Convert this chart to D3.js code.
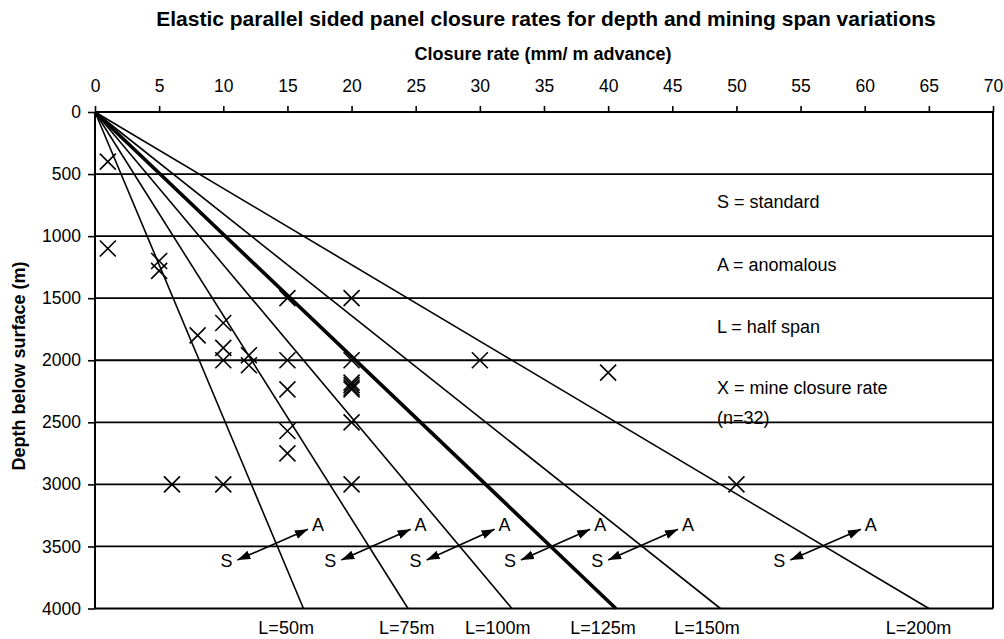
<!DOCTYPE html>
<html>
<head>
<meta charset="utf-8">
<script src="https://cdn.jsdelivr.net/npm/d3@7"></script>
<style>
  body { margin: 0; background: #fff; }
  svg text { font-family: Arial, "Liberation Sans", sans-serif; fill: #000; }
</style>
</head>
<body>
<svg id="chart" width="1004" height="639"></svg>
<script>
// ---- data ----
const rateTicks  = [0, 5, 10, 15, 20, 25, 30, 35, 40, 45, 50, 55, 60, 65, 70];
const depthTicks = [0, 500, 1000, 1500, 2000, 2500, 3000, 3500, 4000];

// elastic closure lines: half span label and closure rate reached at 4000 m
const spanLabels   = ["L=50m", "L=75m", "L=100m", "L=125m", "L=150m", "L=200m"];
const rateAt4000   = [16.25, 24.4, 32.5, 40.6, 48.75, 65];
const heavySpan    = "L=125m";
const spanLabelRate = [14.9, 24.3, 31.4, 39.6, 47.7, 64.2];

// measured mine closure rates (mm / m advance) and depths (m)
const mineRate  = [1, 1, 5, 5, 15, 20, 10, 8, 10, 10, 12, 12, 15, 20, 30, 40,
                   15, 20, 20, 20, 20, 20, 15, 15, 6, 10, 20, 50];
const mineDepth = [400, 1100, 1200, 1280, 1500, 1500, 1700, 1800, 1900, 2000, 1960, 2040, 2000, 2000, 2000, 2100,
                   2235, 2180, 2200, 2220, 2235, 2500, 2570, 2750, 3000, 3000, 3000, 3000];

// standard (S) to anomalous (A) shift arrows for each half span
const shiftStdRate  = [11.1, 19.2, 25.85, 33.2, 40.0, 54.2];
const shiftAnomRate = [16.6, 24.6, 31.15, 38.6, 45.45, 59.7];
const shiftStdDepth  = 3610;
const shiftAnomDepth = 3362;

const legendLines = ["S = standard", "A = anomalous", "L = half span", "X = mine closure rate", "(n=32)"];

// ---- layout ----
const svg = d3.select("#chart");
const x = d3.scaleLinear().domain([0, 70]).range([95, 993]);
const y = d3.scaleLinear().domain([0, 4000]).range([112, 608.5]);

// title and axis titles
svg.append("text")
  .attr("x", 546).attr("y", 26)
  .attr("text-anchor", "middle")
  .style("font-size", "21px").style("font-weight", "bold")
  .text("Elastic parallel sided panel closure rates for depth and mining span variations");

svg.append("text")
  .attr("x", 543).attr("y", 60)
  .attr("text-anchor", "middle")
  .style("font-size", "18px").style("font-weight", "bold")
  .text("Closure rate (mm/ m advance)");

svg.append("text")
  .attr("transform", "translate(25,366) rotate(-90)")
  .attr("text-anchor", "middle")
  .style("font-size", "18px").style("font-weight", "bold")
  .text("Depth below surface (m)");

// legend notes
const legendBase = [208, 271, 333, 394, 424];
svg.append("g").selectAll("text")
  .data(legendLines)
  .join("text")
  .attr("x", 717)
  .attr("y", (d, i) => legendBase[i])
  .style("font-size", "18px")
  .text(d => d);

// axes
const xAxis = svg.append("g")
  .attr("transform", `translate(0,${y(0)})`)
  .call(d3.axisTop(x).tickValues(rateTicks).tickSize(6).tickPadding(14).tickFormat(d3.format("d")));
const yAxis = svg.append("g")
  .attr("transform", `translate(${x(0)},0)`)
  .call(d3.axisLeft(y).tickValues(depthTicks).tickSize(7).tickPadding(7).tickFormat(d3.format("d")));
[xAxis, yAxis].forEach(g => {
  g.select(".domain").remove();
  g.selectAll(".tick line").attr("stroke", "#000").attr("stroke-width", 1.6);
  g.selectAll(".tick text").style("font-size", "17.5px").style("font-family", "Arial, 'Liberation Sans', sans-serif");
});

// horizontal grid lines
svg.append("g").selectAll("line")
  .data(depthTicks)
  .join("line")
  .attr("x1", x(0)).attr("x2", x(70))
  .attr("y1", d => y(d)).attr("y2", d => y(d))
  .attr("stroke", "#000").attr("stroke-width", 1.8);

// plot borders
svg.append("g").selectAll("line")
  .data([0, 70])
  .join("line")
  .attr("x1", d => x(d)).attr("x2", d => x(d))
  .attr("y1", y(0)).attr("y2", y(4000))
  .attr("stroke", "#000").attr("stroke-width", 2);

// closure rate lines from the surface
svg.append("g").selectAll("line")
  .data(spanLabels.map((s, i) => ({ s, r: rateAt4000[i], lr: spanLabelRate[i] })))
  .join("line")
  .attr("x1", x(0)).attr("y1", y(0))
  .attr("x2", d => x(d.r)).attr("y2", y(4000))
  .attr("stroke", "#000")
  .attr("stroke-width", d => d.s === heavySpan ? 3.6 : 1.6);

svg.append("g").selectAll("text")
  .data(spanLabels.map((s, i) => ({ s, lr: spanLabelRate[i] })))
  .join("text")
  .attr("x", d => x(d.lr)).attr("y", 634)
  .attr("text-anchor", "middle")
  .style("font-size", "18px")
  .text(d => d.s);

// mine closure crosses
svg.append("g").selectAll("path")
  .data(mineRate.map((r, i) => ({ r, d: mineDepth[i] })))
  .join("path")
  .attr("transform", d => `translate(${x(d.r)},${y(d.d)})`)
  .attr("d", "M-8,-8L8,8M-8,8L8,-8")
  .attr("fill", "none").attr("stroke", "#000").attr("stroke-width", 1.6);

// S <-> A arrows
svg.append("defs").append("marker")
  .attr("id", "head")
  .attr("markerUnits", "userSpaceOnUse")
  .attr("markerWidth", 14).attr("markerHeight", 12)
  .attr("viewBox", "0 -6 14 12")
  .attr("refX", 13).attr("refY", 0)
  .attr("orient", "auto-start-reverse")
  .append("path").attr("d", "M0,-4.5L13,0L0,4.5Z").attr("fill", "#000");

const shifts = shiftStdRate.map((s, i) => ({ s, a: shiftAnomRate[i] }));
const arrows = svg.append("g");
arrows.selectAll("line")
  .data(shifts)
  .join("line")
  .attr("x1", d => x(d.s)).attr("y1", y(shiftStdDepth))
  .attr("x2", d => x(d.a)).attr("y2", y(shiftAnomDepth))
  .attr("stroke", "#000").attr("stroke-width", 1.6)
  .attr("marker-start", "url(#head)")
  .attr("marker-end", "url(#head)");
arrows.selectAll("text.s")
  .data(shifts)
  .join("text").attr("class", "s")
  .attr("x", d => x(d.s) - 11).attr("y", y(shiftStdDepth) + 6.5)
  .attr("text-anchor", "middle")
  .style("font-size", "18px")
  .text("S");
arrows.selectAll("text.a")
  .data(shifts)
  .join("text").attr("class", "a")
  .attr("x", d => x(d.a) + 10).attr("y", y(shiftAnomDepth) + 1.5)
  .attr("text-anchor", "middle")
  .style("font-size", "18px")
  .text("A");
</script>
</body>
</html>
